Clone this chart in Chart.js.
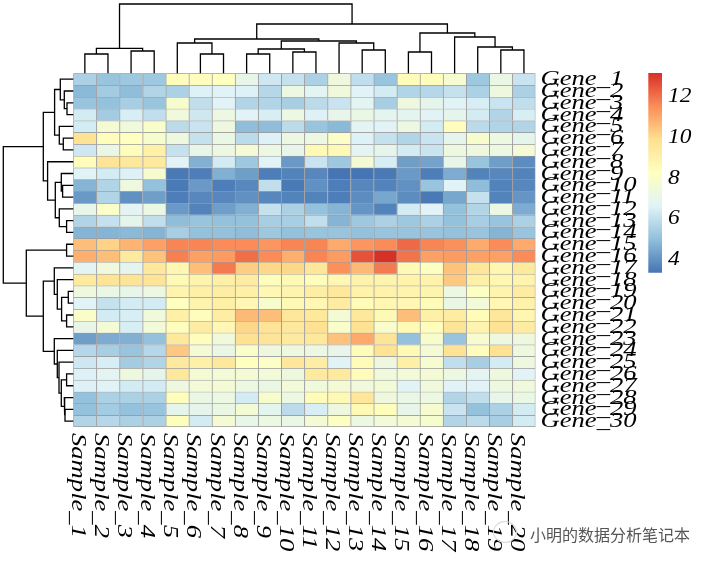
<!DOCTYPE html>
<html>
<head>
<meta charset="utf-8">
<script src="https://cdn.jsdelivr.net/npm/chart.js@4.4.1/dist/chart.umd.min.js"></script>
<style>
body { margin: 0; background: #fff; }
#wrap { position: relative; width: 716px; height: 565px; overflow: hidden; }
#wrap canvas { position: absolute; left: 0; top: 0; }
#mark { position: absolute; left: 530px; top: 522px; font: 16px "Noto Sans CJK SC"; color: #555; text-shadow: 0 0 2px #fff; white-space: nowrap; }
#icon { position: absolute; left: 493px; top: 521px; width: 22px; height: 20px; border: 1px solid #d8d8d8; border-radius: 50%; }
</style>
</head>
<body>
<div id="wrap">
  <canvas id="heat" width="716" height="565"></canvas>
  <canvas id="topTree" width="716" height="565"></canvas>
  <canvas id="leftTree" width="716" height="565"></canvas>
  <canvas id="key" width="716" height="565"></canvas>
  <div id="icon"></div>
  <div id="mark">小明的数据分析笔记本</div>
</div>
<script>
// samples and genes, in the order shown
const samples = Array.from({ length: 20 }, (_, i) => 'Sample_' + (i + 1));
const genes = Array.from({ length: 30 }, (_, i) => 'Gene_' + (i + 1));

// expression values, one row per gene (Gene_1 .. Gene_30), columns Sample_1 .. Sample_20
const expr = [
  [5.5,5.1,5.2,5.2,8.3,8.3,8.2,7.0,6.2,6.0, 5.5,7.3,5.9,5.1,8.4,8.3,7.7,5.2,7.1,6.1],
  [4.8,5.3,4.9,5.6,5.5,6.5,6.6,6.5,5.7,7.2, 6.7,7.4,6.6,6.3,5.6,5.7,6.0,5.5,7.3,5.5],
  [5.1,5.0,5.4,5.1,7.8,5.9,6.6,5.6,5.6,5.4, 5.8,6.1,6.7,5.4,7.3,6.9,6.6,6.4,6.1,5.9],
  [6.3,5.3,6.4,5.9,7.4,6.2,7.2,6.6,6.4,7.2, 6.5,7.0,7.1,6.8,6.8,6.6,6.9,6.3,5.6,6.4],
  [6.3,7.6,7.4,7.9,5.8,6.1,7.3,4.9,4.9,5.8, 5.1,4.8,6.7,6.6,7.2,6.3,8.3,5.8,5.6,5.6],
  [9.7,8.3,8.2,7.8,7.3,6.0,7.1,5.8,6.5,7.2, 7.2,8.0,6.5,6.0,5.6,6.1,6.9,7.8,7.2,6.9],
  [6.2,7.1,8.3,9.0,6.0,7.0,7.2,7.6,7.2,7.0, 8.5,8.5,6.7,6.9,6.3,6.1,7.3,7.3,7.2,7.6],
  [8.3,9.6,9.4,9.3,6.6,4.6,6.3,5.2,6.6,4.1, 6.1,5.2,7.6,6.4,4.2,4.3,7.0,5.1,4.2,3.8],
  [6.6,6.3,6.5,7.7,3.4,3.5,4.6,4.2,3.5,3.6, 3.7,3.3,3.3,3.4,4.1,3.5,4.5,3.6,3.7,3.6],
  [4.7,5.6,7.3,5.0,3.4,4.1,3.5,3.7,5.9,3.4, 3.9,3.5,3.7,3.6,3.9,5.1,6.6,4.9,3.6,3.7],
  [4.1,5.6,3.9,4.2,3.5,3.7,3.7,3.9,3.7,3.6, 3.6,3.5,3.8,4.4,3.8,3.4,4.4,6.0,3.6,4.0],
  [7.0,8.0,6.7,7.2,4.1,3.6,4.2,4.6,6.0,5.5, 5.0,4.7,4.0,3.6,6.3,6.6,5.0,5.6,7.2,4.5],
  [5.6,6.0,6.9,5.9,4.9,5.1,5.0,5.0,5.4,5.4, 5.9,4.7,5.2,5.5,5.2,5.5,5.0,5.4,5.1,5.5],
  [4.7,4.7,4.8,4.7,5.4,5.0,5.0,4.9,5.2,5.0, 5.1,5.1,5.0,5.1,5.1,5.1,5.0,5.1,4.7,5.1],
  [10.5,10.1,10.7,11.1,11.6,11.6,11.5,11.5,11.3,11.6, 11.6,10.9,11.3,11.5,12.1,11.6,11.4,10.9,11.5,10.9],
  [10.8,10.5,9.3,10.4,11.7,11.1,11.2,12.0,11.5,10.8, 11.6,11.2,12.5,13.1,11.9,11.1,11.2,11.1,11.1,11.5],
  [6.7,7.4,6.8,9.4,8.7,10.5,11.8,10.2,10.0,10.0, 9.5,11.4,10.6,11.8,8.5,8.1,10.4,9.5,8.7,9.3],
  [9.3,9.6,9.6,9.6,8.5,8.8,9.0,9.2,8.3,8.5, 8.3,8.6,8.9,8.8,8.9,8.9,10.3,9.0,8.7,8.8],
  [7.3,7.1,7.0,7.2,8.8,9.0,9.1,9.0,8.6,8.8, 9.1,9.4,8.9,8.9,8.8,8.8,7.2,8.1,8.8,9.2],
  [6.6,6.0,6.3,6.3,8.2,8.8,9.0,8.6,7.8,8.5, 8.6,9.2,8.4,8.7,8.6,8.4,7.1,7.5,8.6,8.9],
  [7.9,6.3,6.4,7.4,9.0,8.3,9.1,10.6,10.5,9.5, 9.4,7.6,9.4,8.5,10.5,9.0,9.2,8.4,9.5,8.7],
  [7.0,7.6,6.4,7.5,8.3,9.2,8.6,10.0,9.6,9.4, 9.8,7.9,9.7,7.9,8.5,8.3,9.6,8.8,9.7,9.2],
  [4.2,4.5,4.6,5.0,9.4,8.3,7.4,9.8,9.6,9.3, 9.4,10.4,10.9,9.6,5.0,7.8,5.1,7.7,7.3,7.3],
  [5.7,5.4,5.1,5.7,10.3,7.6,7.1,7.9,7.3,7.3, 7.2,7.0,8.4,9.7,8.5,7.6,9.7,8.3,9.8,7.3],
  [6.2,6.4,5.3,5.6,9.3,9.0,9.4,8.2,8.0,9.5, 9.1,6.6,8.4,7.3,9.0,7.7,5.9,5.4,6.3,7.3],
  [6.5,6.7,7.3,6.9,9.4,7.6,7.5,7.6,7.5,7.3, 9.3,9.3,8.4,7.4,7.5,7.6,7.2,6.7,7.3,6.6],
  [6.5,6.6,6.3,6.3,7.3,7.5,7.6,7.2,7.1,7.5, 7.4,7.6,7.4,7.5,6.6,7.4,6.6,6.6,7.3,7.4],
  [5.0,5.5,5.5,5.5,8.3,7.1,7.2,6.3,7.8,7.2, 8.4,8.5,9.5,7.3,7.1,7.2,5.6,5.9,7.0,7.1],
  [5.0,5.3,5.0,5.1,6.9,6.9,7.1,7.6,6.8,5.8, 6.4,7.3,8.5,8.3,7.0,7.7,6.1,5.0,5.5,6.3],
  [5.6,5.7,5.5,5.5,8.3,6.3,7.6,7.0,7.2,7.1, 7.6,8.1,7.2,7.5,7.6,7.8,5.6,5.8,5.4,6.3]
];

// column clustering, hclust style: negative = leaf, positive = earlier merge (1-based)
const colMergeA = [-1, -3, 1, -6, -5, -8, -10, 6, -13, -12, 8, 5, -15, -19, -18, -17, 13, 12, 3];
const colMergeB = [-2, -4, 2, -7, 4, -9, -11, 7, -14, 9, 10, 11, -16, -20, 14, 15, 16, 17, 18];
const colMergeH = [19.3, 22.3, 25, 19.3, 30.3, 19.3, 21.3, 24.3, 23.3, 30.3, 32.3, 34.3, 21.3, 23.3, 26.3, 36.3, 40.3, 49.3, 69.3];

// row clustering
const rowMergeA = [-3, -2, -1, -6, -5, 3, -10, -9, -13, -12, 8, -8, 6, -15, -19, -21, 15, -18, -17, -26, -29, -28, 20, -25, -24, -23, 19, 14, 13];
const rowMergeB = [-4, 1, 2, -7, 4, 5, -11, 7, -14, 9, 10, 11, 12, -16, -20, -22, 16, 17, 18, -27, -30, 21, 22, 23, 24, 25, 26, 27, 28];
const rowMergeH = [6.3, 9, 13, 10, 14, 18.7, 10.7, 12, 6.7, 14, 18, 25.7, 30, 6.7, 5, 6.7, 11.7, 16, 19, 6.7, 8.3, 9, 12, 14.3, 16, 19, 30, 47, 70];

const legendTicks = [4, 6, 8, 10, 12];
const palette = ['#4575B4', '#91BFDB', '#E0F3F8', '#FFFFBF', '#FEE090', '#FC8D59', '#D73027'];

const allVals = expr.flat();
const vMin = Math.min(...allVals);
const vMax = Math.max(...allVals);

function hexRgb(h) {
  return [1, 3, 5].map(i => parseInt(h.slice(i, i + 2), 16));
}
function valueColor(v) {
  let t = (v - vMin) / (vMax - vMin);
  t = Math.max(0, Math.min(1, t)) * (palette.length - 1);
  const i = Math.min(Math.floor(t), palette.length - 2);
  const f = t - i;
  const a = hexRgb(palette[i]), b = hexRgb(palette[i + 1]);
  const c = a.map((x, k) => Math.round(x + (b[k] - x) * f));
  return `rgb(${c[0]},${c[1]},${c[2]})`;
}

// heatmap area in page pixels
const L = 73.3, T = 73.3, R = 535.5, B = 427;
const W = 716, H = 565;

const labelFont = 'italic 22px "Liberation Serif", "Times New Roman", serif';
const stretch = 1.21;

const labelPlugin = {
  id: 'labels',
  afterDraw(chart) {
    const ctx = chart.ctx;
    const xs = chart.scales.x, ys = chart.scales.y;
    ctx.save();
    ctx.fillStyle = '#000';
    ctx.font = labelFont;
    ctx.textBaseline = 'alphabetic';
    genes.forEach((g, r) => {
      const yc = ys.getPixelForValue(r + 0.5);
      ctx.save();
      ctx.translate(R + 5, yc + 6);
      ctx.scale(stretch, 1);
      ctx.fillText(g, 0, 0);
      ctx.restore();
    });
    samples.forEach((s, i) => {
      const xc = xs.getPixelForValue(i);
      ctx.save();
      ctx.translate(xc - 13, B + 6);
      ctx.rotate(Math.PI / 2);
      ctx.scale(stretch, 1);
      ctx.fillText(s, 0, 0);
      ctx.restore();
    });
    ctx.restore();
  }
};

const noUi = { legend: { display: false }, tooltip: { enabled: false } };

new Chart(document.getElementById('heat'), {
  type: 'bar',
  data: {
    labels: samples,
    datasets: genes.map((g, r) => ({
      label: g,
      data: samples.map(() => 1),
      backgroundColor: c => valueColor(expr[r][c.dataIndex]),
      borderColor: '#9a9a9a',
      borderWidth: c => ({ top: 1, left: 1, right: c.dataIndex === samples.length - 1 ? 1 : 0, bottom: r === genes.length - 1 ? 1 : 0 }),
      borderSkipped: false,
      barPercentage: 1,
      categoryPercentage: 1
    }))
  },
  options: {
    responsive: false,
    animation: false,
    layout: { padding: { left: L, top: T, right: W - R, bottom: H - B } },
    scales: {
      x: { stacked: true, display: false },
      y: { stacked: true, display: false, min: 0, max: genes.length, reverse: true }
    },
    plugins: noUi
  },
  plugins: [labelPlugin]
});

// turn a merge table into U-shaped segments
function treeSegments(ma, mb, mh) {
  const pos = [], hgt = [], segs = [];
  const where = k => k < 0 ? [-k - 0.5, 0] : [pos[k - 1], hgt[k - 1]];
  for (let m = 0; m < ma.length; m++) {
    const [pa, ha] = where(ma[m]);
    const [pb, hb] = where(mb[m]);
    pos.push((pa + pb) / 2);
    hgt.push(mh[m]);
    segs.push([[pa, ha], [pa, mh[m]], [pb, mh[m]], [pb, hb]]);
  }
  return segs;
}

function lineSet(points) {
  return { data: points, showLine: true, borderColor: '#000', borderWidth: 1.3, pointRadius: 0, clip: false, tension: 0 };
}

new Chart(document.getElementById('topTree'), {
  type: 'scatter',
  data: {
    datasets: treeSegments(colMergeA, colMergeB, colMergeH).map(s => lineSet(s.map(p => ({ x: p[0], y: p[1] }))))
  },
  options: {
    responsive: false,
    animation: false,
    layout: { padding: { left: L, top: 0, right: W - R, bottom: H - T } },
    scales: {
      x: { type: 'linear', display: false, min: 0, max: samples.length },
      y: { type: 'linear', display: false, min: 0, max: T }
    },
    plugins: noUi
  }
});

new Chart(document.getElementById('leftTree'), {
  type: 'scatter',
  data: {
    datasets: treeSegments(rowMergeA, rowMergeB, rowMergeH).map(s => lineSet(s.map(p => ({ x: p[1], y: p[0] }))))
  },
  options: {
    responsive: false,
    animation: false,
    layout: { padding: { left: 0, top: T, right: W - L, bottom: H - B } },
    scales: {
      x: { type: 'linear', display: false, min: 0, max: L, reverse: true },
      y: { type: 'linear', display: false, min: 0, max: genes.length, reverse: true }
    },
    plugins: noUi
  }
});

// colour key
const keyLabels = {
  id: 'keyLabels',
  afterDraw(chart) {
    const ctx = chart.ctx, ys = chart.scales.y;
    ctx.save();
    ctx.fillStyle = '#000';
    ctx.font = 'italic 20px "Liberation Serif", "Times New Roman", serif';
    legendTicks.forEach(v => {
      ctx.save();
      ctx.translate(chart.chartArea.right + 6, ys.getPixelForValue(v) + 6.8);
      ctx.scale(1.17, 1);
      ctx.fillText(String(v), 0, 0);
      ctx.restore();
    });
    ctx.restore();
  }
};

new Chart(document.getElementById('key'), {
  type: 'bar',
  data: {
    labels: ['key'],
    datasets: [{
      data: [[vMin, vMax]],
      backgroundColor: c => {
        const area = c.chart.chartArea, ys = c.chart.scales.y;
        if (!area || !ys) return palette[3];
        const g = c.chart.ctx.createLinearGradient(0, ys.getPixelForValue(vMin), 0, ys.getPixelForValue(vMax));
        palette.forEach((p, i) => g.addColorStop(i / (palette.length - 1), p));
        return g;
      },
      borderWidth: 0,
      barPercentage: 1,
      categoryPercentage: 1
    }]
  },
  options: {
    responsive: false,
    animation: false,
    layout: { padding: { left: 648.3, top: 73, right: W - 662, bottom: H - 272.7 } },
    scales: {
      x: { display: false },
      y: { display: false, min: vMin, max: vMax }
    },
    plugins: noUi
  },
  plugins: [keyLabels]
});
</script>
</body>
</html>
